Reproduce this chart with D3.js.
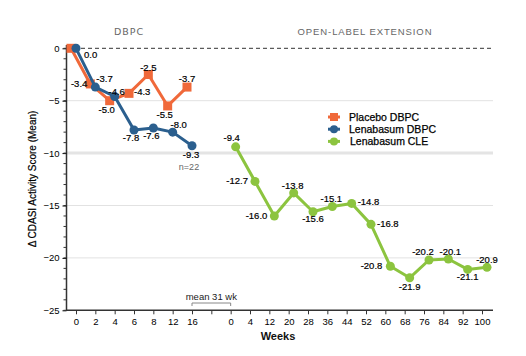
<!DOCTYPE html>
<html><head><meta charset="utf-8">
<script src="https://cdn.jsdelivr.net/npm/d3@7"></script>
<style>body{margin:0;background:#fff}svg{display:block;font-family:"Liberation Sans",Arial,sans-serif}</style>
</head><body><svg id="c" width="526" height="356"></svg>
<script>
// ---- data ----
const slots = ["d0","d2","d4","d6","d8","d12","d16","gap","o0","o4","o12","o20","o28","o36","o44","o52","o60","o68","o76","o84","o92","o100"];
const slotLabels = ["0","2","4","6","8","12","16","","0","4","12","20","28","36","44","52","60","68","76","84","92","100"];
const dbpcSlots = ["d0","d2","d4","d6","d8","d12","d16"];
const oleSlots = ["o0","o4","o12","o20","o28","o36","o44","o52","o60","o68","o76","o84","o92","o100"];
const placeboValues = [0,-3.4,-5.0,-4.3,-2.5,-5.5,-3.7];
const lenabasumDbpcValues = [0,-3.7,-4.6,-7.8,-7.6,-8.0,-9.3];
const lenabasumCleValues = [-9.4,-12.7,-16.0,-13.8,-15.6,-15.1,-14.8,-16.8,-20.8,-21.9,-20.2,-20.1,-21.1,-20.9];
const placeboLabels = [null,"-3.4","-5.0","-4.3","-2.5","-5.5","-3.7"];
const dbpcLabels = ["0.0","-3.7","-4.6","-7.8","-7.6","-8.0","-9.3"];
const cleLabels = ["-9.4","-12.7","-16.0","-13.8","-15.6","-15.1","-14.8","-16.8","-20.8","-21.9","-20.2","-20.1","-21.1","-20.9"];
const yTicks = [0,-5,-10,-15,-20,-25];
const seriesNames = ["Placebo DBPC","Lenabasum DBPC","Lenabasum CLE"];

// label placement (anchor, dx, dy) – styling, separate from data
const placeboPos = [null,["end",-3,3],["middle",-3,12],["start",5,2],["middle",0,-4],["middle",-3,12],["middle",0,-5]];
const dbpcPos = [["start",8,10],["start",1,-5],["middle",2,-2],["middle",-3,11],["middle",-2,11],["middle",6,-4],["middle",-1,12]];
const clePos = [["middle",-4,-6],["end",-7,3],["end",-7,3],["middle",-1,-4],["middle",0,10],["middle",-1,-5],["start",6,2],["start",6,3],["end",-8,3],["middle",0,12],["middle",-6,-5],["middle",2,-4],["middle",0,11],["middle",0,-4]];

const C_OR = "#F0693A", C_BL = "#2B5F8E", C_GR = "#8CC43F";

const svg = d3.select("#c");
const x = d3.scalePoint().domain(slots).range([76,482]);
const y = d3.scaleLinear().domain([0,-25]).range([48.3,310.3]);

// gridlines
const g = svg.append("g");
[-5,-15,-20].forEach(v=>g.append("line").attr("x1",67).attr("x2",493).attr("y1",y(v)).attr("y2",y(v)).attr("stroke","#e2e2e2").attr("stroke-width",1));
g.append("line").attr("x1",67).attr("x2",493).attr("y1",y(-10)).attr("y2",y(-10)).attr("stroke","#e4e4e4").attr("stroke-width",3);
g.append("line").attr("x1",67).attr("x2",493).attr("y1",y(0)).attr("y2",y(0)).attr("stroke","#333").attr("stroke-width",1).attr("stroke-dasharray","4,3");

// y axis
const yAxis = svg.append("g").attr("transform","translate(66.5,0)")
  .call(d3.axisLeft(y).tickValues(yTicks).tickSize(4).tickPadding(3).tickFormat(d3.format("d")));
yAxis.append("g").selectAll("line").data(d3.range(0,-26,-1)).join("line")
  .attr("x1",-3).attr("x2",0).attr("y1",d=>y(d)).attr("y2",d=>y(d)).attr("stroke","#333");
yAxis.select(".domain").attr("d","M0,45V310.3").attr("stroke","#333").attr("stroke-width",1.5);
yAxis.selectAll("text").attr("font-size",9.5).attr("fill","#000").attr("font-family","Liberation Sans, Arial");

// x axis
const xAxis = svg.append("g").attr("transform","translate(0,310.3)")
  .call(d3.axisBottom(x).tickSize(4).tickPadding(4).tickFormat((d,i)=>slotLabels[i]));
xAxis.select(".domain").attr("d","M66,0H493").attr("stroke","#333").attr("stroke-width",1.5);
xAxis.selectAll("text").attr("font-size",9.5).attr("fill","#000").attr("font-family","Liberation Sans, Arial");
xAxis.selectAll(".tick line").attr("stroke","#333");

// titles
svg.append("text").attr("x",278).attr("y",340).attr("text-anchor","middle").attr("font-size",11).attr("font-weight","bold").attr("fill","#111").text("Weeks");
svg.append("text").attr("transform","translate(36,179) rotate(-90)").attr("text-anchor","middle").attr("font-size",10).attr("fill","#000").attr("stroke","#000").attr("stroke-width",0.2).text("\u0394 CDASI Activity Score (Mean)");
svg.append("text").attr("x",129).attr("y",35).attr("text-anchor","middle").attr("font-size",9.5).attr("letter-spacing",1).attr("fill","#666").attr("font-family","DejaVu Sans, sans-serif").text("DBPC");
svg.append("text").attr("x",365).attr("y",35).attr("text-anchor","middle").attr("font-size",9.5).attr("letter-spacing",0.9).attr("fill","#666").attr("font-family","Liberation Sans, Arial").text("OPEN-LABEL EXTENSION");

// mean 31 wk bracket
svg.append("path").attr("d",`M${x("d16")},306V303H${x("o0")}V306`).attr("fill","none").attr("stroke","#888").attr("stroke-width",1);
svg.append("text").attr("x",(x("d16")+x("o0"))/2).attr("y",300).attr("text-anchor","middle").attr("font-size",9.5).attr("fill","#222").text("mean 31 wk");
svg.append("text").attr("x",189).attr("y",170).attr("text-anchor","middle").attr("font-size",9).attr("fill","#666").text("n=22");

const line = d3.line();
function drawSeries(keys, vals, off, color, shape, labels, pos){
  const pts = keys.map((k,i)=>[x(k)+off, y(vals[i])]);
  svg.append("path").attr("d",line(pts)).attr("fill","none").attr("stroke",color).attr("stroke-width",3).attr("stroke-linejoin","round");
  const m = svg.append("g");
  if(shape==="square"){
    m.selectAll("rect").data(pts).join("rect").attr("x",d=>d[0]-4.5).attr("y",d=>d[1]-4.5).attr("width",9).attr("height",9).attr("fill",color);
  } else {
    m.selectAll("circle").data(pts).join("circle").attr("cx",d=>d[0]).attr("cy",d=>d[1]).attr("r",4.5).attr("fill",color);
  }
  svg.append("g").selectAll("text").data(pts.map((p,i)=>({p,t:labels[i],s:pos[i]})).filter(d=>d.t)).join("text")
    .attr("x",d=>d.p[0]+d.s[1]).attr("y",d=>d.p[1]+d.s[2]).attr("text-anchor",d=>d.s[0])
    .attr("font-size",9.5).attr("fill","#000").attr("stroke","#000").attr("stroke-width",0.2).text(d=>d.t);
}
drawSeries(dbpcSlots, placeboValues, -5, C_OR, "square", placeboLabels, placeboPos);
drawSeries(dbpcSlots, lenabasumDbpcValues, 0, C_BL, "circle", dbpcLabels, dbpcPos);
drawSeries(oleSlots, lenabasumCleValues, 5, C_GR, "circle", cleLabels, clePos);

// legend
const lg = svg.append("g").attr("transform","translate(334,117)");
const lcol = [C_OR,C_BL,C_GR];
seriesNames.forEach((n,i)=>{
  const row = lg.append("g").attr("transform",`translate(0,${i*12.2})`);
  row.append("line").attr("x1",-6).attr("x2",6).attr("y1",0).attr("y2",0).attr("stroke",lcol[i]).attr("stroke-width",3);
  if(i===0) row.append("rect").attr("x",-4).attr("y",-4).attr("width",8).attr("height",8).attr("fill",lcol[i]);
  else row.append("circle").attr("r",4).attr("fill",lcol[i]);
  row.append("text").attr("x",i===2?16:15).attr("y",3.8).attr("font-size",10.5).attr("fill","#000").attr("stroke","#000").attr("stroke-width",0.25).text(n);
});
</script></body></html>
